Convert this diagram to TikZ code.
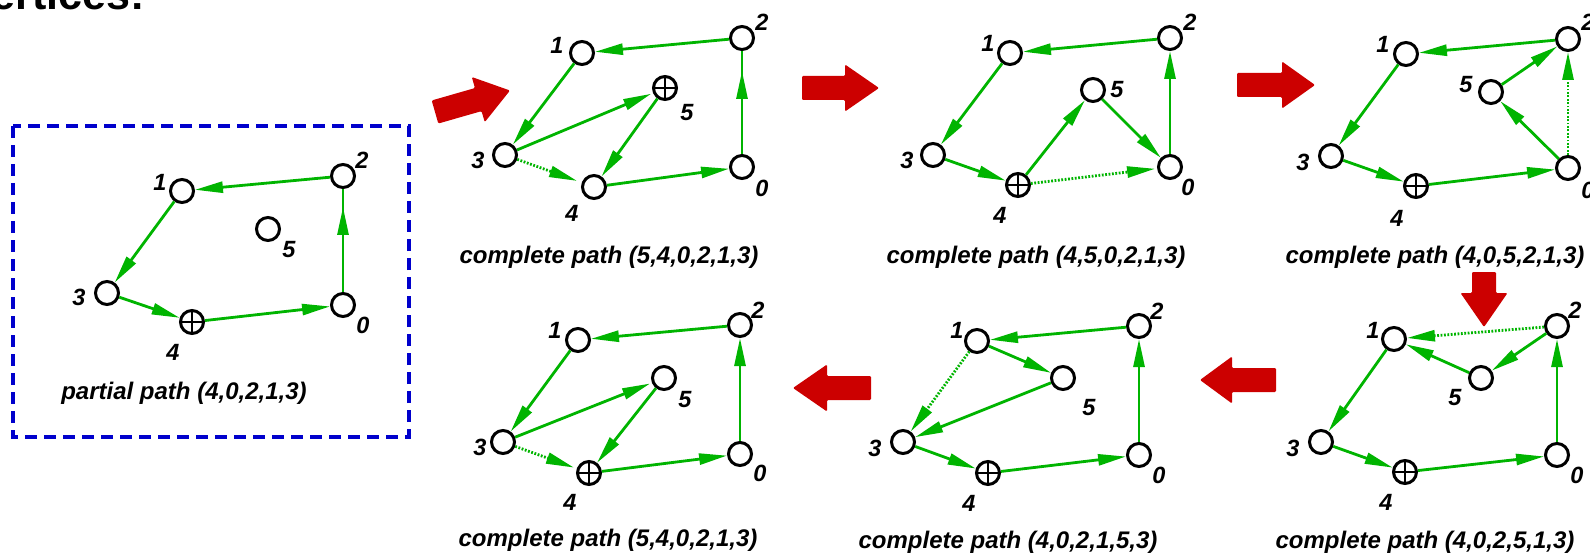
\documentclass[tikz,border=0pt]{standalone}
\usepackage{fontspec}
\setmainfont{Liberation Sans}
\usetikzlibrary{arrows.meta}
\definecolor{egreen}{RGB}{0,180,0}
\definecolor{ared}{RGB}{204,0,0}
\definecolor{bblue}{RGB}{0,0,204}
\newcommand\redarr[4]{\fill[ared,rounded corners=1.2pt,shift={#1},rotate=#2] (0,-12) -- ({#3-#4},-12) -- ({#3-#4},-23.5) -- (#3,0) -- ({#3-#4},23.5) -- ({#3-#4},12) -- (0,12) -- cycle;}
\tikzset{
 vtx/.style={circle,draw=black,line width=3pt,minimum size=23pt,inner sep=0pt,fill=white},
 vtxp/.style={vtx,path picture={\draw[line width=2.8pt] (path picture bounding box.north)--(path picture bounding box.south) (path picture bounding box.west)--(path picture bounding box.east);}},
 lbl/.style={font=\fontsize{23.5}{23.5}\selectfont\bfseries\itshape,inner sep=0pt},
 captxt/.style={font=\fontsize{24}{24}\selectfont\bfseries\itshape,inner sep=0pt},
 gedge/.style={draw=egreen,line width=2.8pt,-{Triangle[length=28pt,width=11pt]}},
 dedge/.style={gedge,dash pattern=on 1.8pt off 1.6pt},
 pedge/.style={draw=egreen,line width=2.8pt},
}
\begin{document}
\begin{tikzpicture}[x=1pt,y=-1pt]
\useasboundingbox (0,0) rectangle (1590,556);
\clip (0,0) rectangle (1590,556);
\node[anchor=base east,inner sep=0pt,font=\fontsize{43}{43}\selectfont\bfseries] (ttl) at (145,10) {vertices:};
% dashed box
\draw[bblue,line width=3.2pt,dash pattern=on 12pt off 7pt] (13,126) rectangle (409,437);
% red arrows
\redarr{(435,112)}{16}{78}{33}
\redarr{(802,88)}{0}{77}{34}
\redarr{(1237,85)}{0}{78}{33}
\redarr{(1484,272)}{-90}{55}{34}
\redarr{(1276,380)}{180}{76}{32}
\redarr{(871,388)}{180}{78}{34}
% ---------- Panel 1
\node[vtx] (p1n0) at (343,305) {};
\node[vtx] (p1n1) at (182,191) {};
\node[vtx] (p1n2) at (343,176) {};
\node[vtx] (p1n3) at (107,293) {};
\node[vtxp] (p1n4) at (192,322) {};
\node[vtx] (p1n5) at (268,229) {};
\node[lbl] (p1l0) at (363,325) {0};
\node[lbl] (p1l1) at (160,182) {1};
\node[lbl] (p1l2) at (362,160) {2};
\node[lbl] (p1l3) at (79,297) {3};
\node[lbl] (p1l4) at (173,352) {4};
\node[lbl] (p1l5) at (289,250) {5};
\node[captxt] (p1c) at (184,393) {partial path (4,0,2,1,3)};
\draw[gedge] (p1n4) -- (p1n0);
\draw[pedge] (p1n0) -- (p1n2);
\draw[gedge,shorten >=18pt] (p1n0) -- (p1n2);
\draw[gedge] (p1n2) -- (p1n1);
\draw[gedge] (p1n1) -- (p1n3);
\draw[gedge] (p1n3) -- (p1n4);
% ---------- Panel 2
\node[vtx] (p2n0) at (742,167) {};
\node[vtx] (p2n1) at (582,53) {};
\node[vtx] (p2n2) at (742,38) {};
\node[vtx] (p2n3) at (505,155) {};
\node[vtx] (p2n4) at (594,187) {};
\node[vtxp] (p2n5) at (665,88) {};
\node[lbl] (p2l0) at (762,188) {0};
\node[lbl] (p2l1) at (557,45) {1};
\node[lbl] (p2l2) at (762,22) {2};
\node[lbl] (p2l3) at (478,160) {3};
\node[lbl] (p2l4) at (572,213) {4};
\node[lbl] (p2l5) at (687,113) {5};
\node[captxt] (p2c) at (609,257) {complete path (5,4,0,2,1,3)};
\draw[gedge] (p2n5) -- (p2n4);
\draw[gedge] (p2n4) -- (p2n0);
\draw[pedge] (p2n0) -- (p2n2);
\draw[gedge,shorten >=20pt] (p2n0) -- (p2n2);
\draw[gedge] (p2n2) -- (p2n1);
\draw[gedge] (p2n1) -- (p2n3);
\draw[gedge,shorten >=2pt] (p2n3) -- (p2n5);
\draw[dedge,shorten >=5pt] (p2n3) -- (p2n4);
% ---------- Panel 3
\node[vtx] (p3n0) at (1170,167) {};
\node[vtx] (p3n1) at (1010,53) {};
\node[vtx] (p3n2) at (1170,38) {};
\node[vtx] (p3n3) at (933,155) {};
\node[vtxp] (p3n4) at (1018,185) {};
\node[vtx] (p3n5) at (1093,90) {};
\node[lbl] (p3l0) at (1188,187) {0};
\node[lbl] (p3l1) at (988,43) {1};
\node[lbl] (p3l2) at (1190,22) {2};
\node[lbl] (p3l3) at (907,160) {3};
\node[lbl] (p3l4) at (1000,215) {4};
\node[lbl] (p3l5) at (1117,90) {5};
\node[captxt] (p3c) at (1036,257) {complete path (4,5,0,2,1,3)};
\draw[gedge] (p3n4) -- (p3n5);
\draw[gedge] (p3n5) -- (p3n0);
\draw[gedge] (p3n0) -- (p3n2);
\draw[gedge] (p3n2) -- (p3n1);
\draw[gedge] (p3n1) -- (p3n3);
\draw[gedge] (p3n3) -- (p3n4);
\draw[dedge,shorten >=2pt] (p3n4) -- (p3n0);
% ---------- Panel 4
\node[vtx] (p4n0) at (1568,168) {};
\node[vtx] (p4n1) at (1406,54) {};
\node[vtx] (p4n2) at (1568,39) {};
\node[vtx] (p4n3) at (1331,156) {};
\node[vtxp] (p4n4) at (1416,186) {};
\node[vtx] (p4n5) at (1491,92) {};
\node[lbl] (p4l0) at (1588,190) {0};
\node[lbl] (p4l1) at (1383,44) {1};
\node[lbl] (p4l2) at (1588,22) {2};
\node[lbl] (p4l3) at (1303,162) {3};
\node[lbl] (p4l4) at (1397,218) {4};
\node[lbl] (p4l5) at (1466,85) {5};
\node[captxt] (p4c) at (1435,257) {complete path (4,0,5,2,1,3)};
\draw[gedge] (p4n4) -- (p4n0);
\draw[gedge] (p4n0) -- (p4n5);
\draw[gedge] (p4n5) -- (p4n2);
\draw[gedge] (p4n2) -- (p4n1);
\draw[gedge] (p4n1) -- (p4n3);
\draw[gedge] (p4n3) -- (p4n4);
\draw[dedge] (p4n0) -- (p4n2);
% ---------- Panel 5
\node[vtx] (p5n0) at (1557,455) {};
\node[vtx] (p5n1) at (1394,339) {};
\node[vtx] (p5n2) at (1557,326) {};
\node[vtx] (p5n3) at (1321,442) {};
\node[vtxp] (p5n4) at (1405,472) {};
\node[vtx] (p5n5) at (1481,378) {};
\node[lbl] (p5l0) at (1577,475) {0};
\node[lbl] (p5l1) at (1373,330) {1};
\node[lbl] (p5l2) at (1575,310) {2};
\node[lbl] (p5l3) at (1293,448) {3};
\node[lbl] (p5l4) at (1386,502) {4};
\node[lbl] (p5l5) at (1455,398) {5};
\node[captxt] (p5c) at (1425,542) {complete path (4,0,2,5,1,3)};
\draw[gedge] (p5n4) -- (p5n0);
\draw[gedge] (p5n0) -- (p5n2);
\draw[gedge] (p5n2) -- (p5n5);
\draw[gedge] (p5n5) -- (p5n1);
\draw[gedge] (p5n1) -- (p5n3);
\draw[gedge] (p5n3) -- (p5n4);
\draw[dedge] (p5n2) -- (p5n1);
% ---------- Panel 6
\node[vtx] (p6n0) at (1139,455) {};
\node[vtx] (p6n1) at (977,341) {};
\node[vtx] (p6n2) at (1139,326) {};
\node[vtx] (p6n3) at (903,442) {};
\node[vtxp] (p6n4) at (988,473) {};
\node[vtx] (p6n5) at (1063,378) {};
\node[lbl] (p6l0) at (1159,475) {0};
\node[lbl] (p6l1) at (957,330) {1};
\node[lbl] (p6l2) at (1157,311) {2};
\node[lbl] (p6l3) at (875,448) {3};
\node[lbl] (p6l4) at (969,503) {4};
\node[lbl] (p6l5) at (1089,408) {5};
\node[captxt] (p6c) at (1008,542) {complete path (4,0,2,1,5,3)};
\draw[gedge] (p6n4) -- (p6n0);
\draw[gedge] (p6n0) -- (p6n2);
\draw[gedge] (p6n2) -- (p6n1);
\draw[gedge] (p6n1) -- (p6n5);
\draw[gedge] (p6n5) -- (p6n3);
\draw[gedge] (p6n3) -- (p6n4);
\draw[dedge] (p6n1) -- (p6n3);
% ---------- Panel 7
\node[vtx] (p7n0) at (740,454) {};
\node[vtx] (p7n1) at (578,340) {};
\node[vtx] (p7n2) at (740,325) {};
\node[vtx] (p7n3) at (503,442) {};
\node[vtxp] (p7n4) at (589,473) {};
\node[vtx] (p7n5) at (664,378) {};
\node[lbl] (p7l0) at (760,473) {0};
\node[lbl] (p7l1) at (555,330) {1};
\node[lbl] (p7l2) at (758,310) {2};
\node[lbl] (p7l3) at (480,447) {3};
\node[lbl] (p7l4) at (570,502) {4};
\node[lbl] (p7l5) at (685,400) {5};
\node[captxt] (p7c) at (608,540) {complete path (5,4,0,2,1,3)};
\draw[gedge] (p7n5) -- (p7n4);
\draw[gedge] (p7n4) -- (p7n0);
\draw[gedge] (p7n0) -- (p7n2);
\draw[gedge] (p7n2) -- (p7n1);
\draw[gedge] (p7n1) -- (p7n3);
\draw[gedge,shorten >=2pt] (p7n3) -- (p7n5);
\draw[dedge,shorten >=3pt] (p7n3) -- (p7n4);
\end{tikzpicture}
\end{document}
